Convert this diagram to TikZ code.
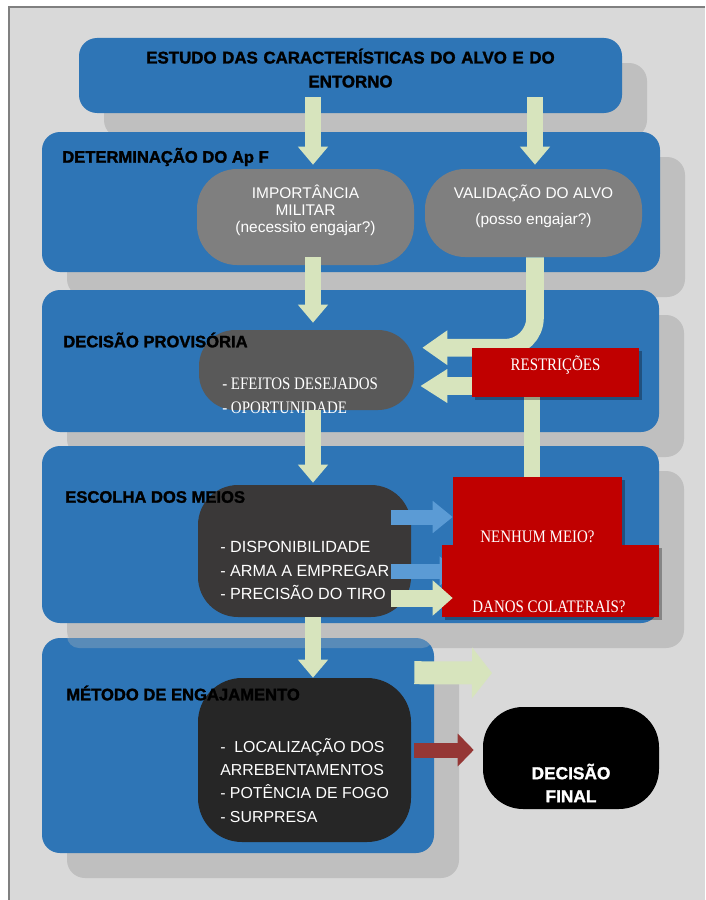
\documentclass[tikz,border=0pt]{standalone}
\usepackage{fontspec}
\setmainfont{Liberation Sans}[BoldFeatures={FakeBold=1.6}]
\newfontfamily\redfont{Liberation Serif}[FakeStretch=0.85]
\usepackage{tikz}
\usetikzlibrary{arrows.meta,fit,calc,shadows}

\definecolor{framegray}{HTML}{D9D9D9}
\definecolor{framedark}{HTML}{808080}
\definecolor{shadowgray}{HTML}{BFBFBF}
\definecolor{panelblue}{HTML}{2E75B6}
\definecolor{arrowgreen}{HTML}{D7E4BD}
\definecolor{arrowblue}{HTML}{5B9BD5}
\definecolor{arrowred}{HTML}{953735}
\definecolor{redfill}{HTML}{C00000}
\definecolor{grayA}{HTML}{7F7F7F}
\definecolor{grayB}{HTML}{595959}
\definecolor{grayC}{HTML}{3A3838}
\definecolor{grayD}{HTML}{262626}

\pgfdeclarelayer{panels}
\pgfdeclarelayer{front}
\pgfsetlayers{panels,main,front}

\begin{document}
\begin{tikzpicture}[x=0.025cm,y=-0.025cm,
  panel/.style={fill=panelblue,rounded corners=0.45cm,inner sep=0pt,
    drop shadow={shadow xshift=0.625cm,shadow yshift=-0.625cm,fill=shadowgray,opacity=1}},
  blob/.style={rounded corners=1cm,inner sep=0pt,text=white,align=center},
  redbox/.style={fill=redfill,inner sep=0pt,text=white,font=\redfont\fontsize{12.5}{14}\selectfont,
    drop shadow={shadow xshift=0.08cm,shadow yshift=-0.08cm,fill=black,opacity=.3}},
  redtext/.style={inner sep=0pt,text=white,font=\redfont\fontsize{12.5}{14}\selectfont},
  paneltitle/.style={anchor=west,inner sep=0pt,font=\bfseries\fontsize{11.8}{14}\selectfont},
  itemlist/.style={anchor=west,inner sep=0pt,text=white,align=left},
  garrow/.style={draw=arrowgreen,line width=0.4cm,-{Triangle[length=0.45cm,width=0.725cm]}},
  barrow/.style={draw=arrowblue,line width=0.375cm,-{Triangle[length=0.5cm,width=0.775cm]}}]
\useasboundingbox (0,0) rectangle (705,900);

\begin{pgfonlayer}{panels}
  \fill[framegray] (9,7) rectangle (705,900);
  \draw[framedark,line width=0.04cm] (705,7) -- (9,7) -- (9,900);
  \node[panel,fit={(79,38) (622,113)},align=center,font=\bfseries\fontsize{12}{17}\selectfont] (estudo)
    {ESTUDO DAS CARACTERÍSTICAS DO ALVO E DO\\ENTORNO};
  \node[panel,fit={(42,132) (660,272)}] (apf) {};
  \node[panel,fit={(42,290) (659,432)}] (provisoria) {};
  \node[panel,fit={(42,446) (659,623)}] (escolha) {};
  \node[panel,fit={(42,638) (434,853)}] (engajamento) {};
  \fill[shadowgray,opacity=.3,rounded corners=0.3cm] (67,626) rectangle (434,648);% sombra sobre o ultimo painel
\end{pgfonlayer}

\node[blob,fill=grayA,fit={(197,169) (414,265)},font=\fontsize{11}{12}\selectfont] (imp)
  {IMPORTÂNCIA\\MILITAR\\(necessito engajar?)};
\node[blob,fill=grayA,fit={(425,169) (642,257)},font=\fontsize{11}{12}\selectfont] (val)
  {VALIDAÇÃO DO ALVO\\[6.5pt](posso engajar?)};
\node[blob,fill=grayB,rounded corners=0.9cm,fit={(199,330) (414,410)}] (dp) {};
\node[blob,fill=grayC,fit={(198,485) (411,617)}] (meios) {};
\node[blob,fill=grayD,rounded corners=1.1cm,fit={(198,678) (411,842)}] (metodo) {};
\node[blob,fill=black,fit={(483,707) (659,809)}] (final) {};

\node[itemlist,font=\redfont\fontsize{12.5}{17}\selectfont] (dp-txt) at (222,396)
  {- EFEITOS DESEJADOS\\- OPORTUNIDADE};
\node[itemlist,font=\fontsize{11.5}{16.7}\selectfont] (meios-txt) at (220,570.5)
  {- DISPONIBILIDADE\\- ARMA A EMPREGAR\\- PRECISÃO DO TIRO};
\node[itemlist,font=\fontsize{11.3}{16.4}\selectfont] (metodo-txt) at (220,780.5)
  {-\ \ LOCALIZAÇÃO DOS\\ARREBENTAMENTOS\\- POTÊNCIA DE FOGO\\- SURPRESA};
\node[inner sep=0pt,text=white,align=center,font=\bfseries\fontsize{12.3}{16.4}\selectfont] (final-txt)
  at ($(final.center)+(0,25)$) {DECISÃO\\FINAL};

\begin{pgfonlayer}{front}
  \node[redbox,fit={(472,348) (639,397)}] (restr) {RESTRIÇÕES};
  \node[redbox,fit={(453,477) (622,547)}] (nenhum) {};
  \node[redtext] (nenhum-txt) at ($(nenhum.south)+(0,-10)$) {NENHUM MEIO?};
  \node[redbox,fit={(442,545) (659,617)}] (danos) {};
  \node[redtext] (danos-txt) at ($(danos.south)+(-1.5,-10)$) {DANOS COLATERAIS?};
\end{pgfonlayer}

\coordinate (colL) at (313,0);
\coordinate (colR) at (535,0);
\coordinate (next) at (492,673);

\draw[garrow] ($(colL |- estudo.south)+(0,-16)$) -- ($(colL |- imp.north)+(0,-4)$);
\draw[garrow] ($(colR |- estudo.south)+(0,-16)$) -- ($(colR |- val.north)+(0,-4)$);
\draw[garrow] ($(colL |- imp.south)+(0,-8)$) -- ($(colL |- dp.north)+(0,-7)$);
\draw[garrow,line width=0.44cm,-{Triangle[length=0.625cm,width=0.825cm]},rounded corners=0.75cm]
  ($(colR |- val.south)$) |- ($(dp.east |- restr.north)+(8,0)$);
\draw[garrow,line width=0.45cm,-{Triangle[length=0.675cm,width=0.8cm]}]
  ($(restr.west)+(0,13.5)$) -- ($(dp.east |- restr.west)+(6,13.5)$);
\draw[draw=arrowgreen,line width=0.4cm] ($(restr.south)+(-23.5,0)$) -- ($(nenhum.north)+(-5.5,0)$);
\draw[garrow] (colL |- dp.south) -- ($(colL |- meios.north)+(0,-2)$);
\draw[garrow] (colL |- meios.south) -- (colL |- metodo.north);
\draw[barrow] ($(meios.east)+(-20,-34)$) -- ($(nenhum.west)+(0,5)$);
\draw[barrow,-{Triangle[length=0.45cm,width=0.7cm]}] ($(meios.east)+(-20,20)$) -- ($(danos.west)+(16,-10)$);
\draw[garrow,line width=0.575cm,-{Triangle[length=0.5cm,width=1.25cm]}] ($(metodo.north east)+(3,-5)$) -- (next);
\draw[draw=arrowred,line width=0.375cm,-{Triangle[length=0.4cm,width=0.8cm]}]
  ($(metodo.east)+(3,-10)$) -- ($(final.west)+(-9,-8)$);

\begin{pgfonlayer}{front}
  \draw[garrow,line width=0.425cm,-{Triangle[length=0.5cm,width=0.85cm]}]
    ($(meios.east)+(-20,47)$) -- ($(danos.west)+(11,17)$);
  \node[paneltitle] (t-apf) at (62,157) {DETERMINAÇÃO DO Ap F};
  \node[paneltitle] (t-prov) at (63,340) {DECISÃO PROVISÓRIA};
  \node[paneltitle] (t-escolha) at (65,497) {ESCOLHA DOS MEIOS};
  \node[paneltitle] (t-eng) at (66,693) {MÉTODO DE ENGAJAMENTO};
\end{pgfonlayer}
\end{tikzpicture}
\end{document}
